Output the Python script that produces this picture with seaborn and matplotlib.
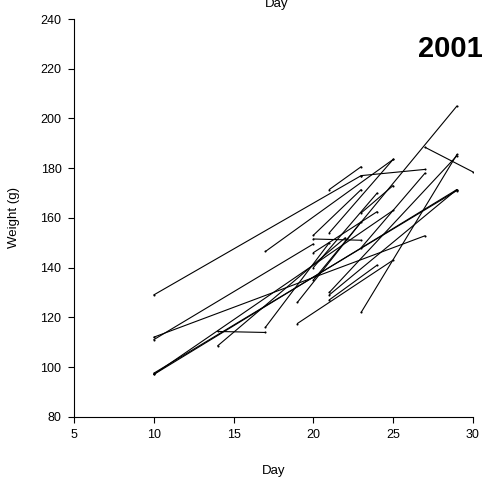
import numpy as np
import pandas as pd
import matplotlib
matplotlib.use("Agg")
import matplotlib.pyplot as plt
import seaborn as sns

# each bird weighed twice: first and second visit
day_first = [10, 23, 21, 17, 20, 14, 14, 17, 10, 10, 10, 10, 10, 20, 27, 23, 19, 21, 21, 20, 21, 23, 23, 20, 21, 19, 20]
weight_first = [129, 177, 171.4, 146.5, 151.5, 114.3, 108.5, 116, 111, 112, 97, 97.5, 97, 135, 188.4, 122, 117.5, 130, 129, 153, 154, 162, 148, 146, 127, 126, 140]
day_second = [23, 27, 23, 25, 23, 17, 22, 21, 20, 27, 29, 29, 25, 29, 30, 29, 25, 29, 29, 23, 25, 25, 27, 24, 24, 23, 24]
weight_second = [177, 179.5, 180.6, 183.5, 151, 113.9, 152, 150, 149.5, 152.8, 171.4, 171, 163, 205, 178.5, 185.5, 143, 185, 171.4, 171.4, 183.5, 173, 178, 162.5, 141, 158.4, 170]

rows = []
for i in range(len(day_first)):
    rows.append({"bird": i, "Day": day_first[i], "Weight": weight_first[i]})
    rows.append({"bird": i, "Day": day_second[i], "Weight": weight_second[i]})
df = pd.DataFrame(rows)

sns.set_style("ticks", {"text.color": "black", "axes.labelcolor": "black",
                        "xtick.color": "black", "ytick.color": "black",
                        "axes.edgecolor": "black"})
plt.rcParams['font.family'] = ['Liberation Sans', 'DejaVu Sans']

fig = plt.figure(figsize=(4.85, 4.84), dpi=100)
ax = fig.add_axes([0.1526, 0.139, 0.8224, 0.8217])

sns.lineplot(data=df, x="Day", y="Weight", units="bird", estimator=None,
             color="black", linewidth=0.8, marker="o", markersize=1.5,
             markeredgewidth=0, ax=ax)

ax.set_xlim(5, 30)
ax.set_ylim(80, 240)
ax.set_xticks([5, 10, 15, 20, 25, 30])
ax.set_yticks([80, 100, 120, 140, 160, 180, 200, 220, 240])
ax.tick_params(labelsize=9, length=4, width=0.8, colors="black", pad=5)
ax.set_xlabel("Day", fontsize=9.5, labelpad=17, color="black")
ax.set_ylabel("Weight (g)", fontsize=9.5, labelpad=15, color="black")
sns.despine(ax=ax)
for s in ["left", "bottom"]:
    ax.spines[s].set_linewidth(0.8)
    ax.spines[s].set_color("black")

fig.text(0.571, 0.9855, "Day", ha="center", va="baseline", fontsize=9.5, color="black")
fig.text(0.861, 0.899, "2001", ha="left", va="center", fontsize=21,
         fontweight="bold", color="black")

fig.savefig("out.png", dpi=100)
